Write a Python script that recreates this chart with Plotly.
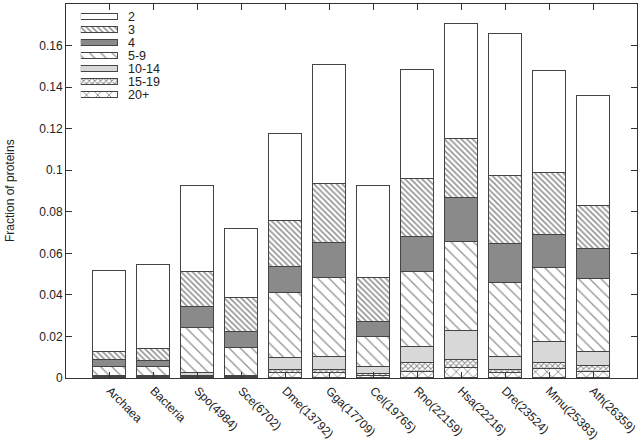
import plotly.graph_objects as go

categories = ["Archaea", "Bacteria", "Spo(4984)", "Sce(6702)", "Dme(13792)", "Gga(17709)",
              "Cel(19765)", "Rno(22159)", "Hsa(22216)", "Dre(23524)", "Mmu(25383)", "Ath(26359)"]

# values per size class (fraction of proteins)
s_20p   = [0.0001, 0.0001, 0.0003, 0.0002, 0.0022, 0.0025, 0.0008, 0.0027, 0.0047, 0.0022, 0.0041, 0.0031]
s_15_19 = [0.0002, 0.0002, 0.0006, 0.0003, 0.0016, 0.0014, 0.0012, 0.0045, 0.0040, 0.0017, 0.0030, 0.0029]
s_10_14 = [0.0007, 0.0006, 0.0013, 0.0006, 0.0056, 0.0064, 0.0032, 0.0077, 0.0137, 0.0061, 0.0104, 0.0067]
s_5_9   = [0.0042, 0.0043, 0.0218, 0.0135, 0.0314, 0.0378, 0.0144, 0.0360, 0.0431, 0.0357, 0.0354, 0.0349]
s_4     = [0.0035, 0.0030, 0.0101, 0.0075, 0.0125, 0.0169, 0.0073, 0.0171, 0.0212, 0.0188, 0.0161, 0.0147]
s_3     = [0.0037, 0.0059, 0.0167, 0.0164, 0.0225, 0.0286, 0.0212, 0.0280, 0.0285, 0.0327, 0.0298, 0.0203]
s_2     = [0.0389, 0.0401, 0.0414, 0.0334, 0.0414, 0.0570, 0.0442, 0.0523, 0.0552, 0.0682, 0.0489, 0.0531]

series_names = ["2", "3", "4", "5-9", "10-14", "15-19", "20+"]
series_values = [s_2, s_3, s_4, s_5_9, s_10_14, s_15_19, s_20p]

y_ticks = [0, 0.02, 0.04, 0.06, 0.08, 0.1, 0.12, 0.14, 0.16, 0.18]
y_ticktext = ["0", "0.02", "0.04", "0.06", "0.08", "0.1", "0.12", "0.14", "0.16", "0.18"]

LINE = "#444444"
HATCH = "#222222"
styles = {
    "2":     dict(color="white"),
    "3":     dict(color="white", pattern=dict(shape="\\", size=4, solidity=0.38, fgcolor=HATCH, bgcolor="white", fillmode="overlay")),
    "4":     dict(color="#8a8a8a"),
    "5-9":   dict(color="white", pattern=dict(shape="\\", size=8, solidity=0.16, fgcolor=HATCH, bgcolor="white", fillmode="overlay")),
    "10-14": dict(color="#d8d8d8"),
    "15-19": dict(color="white", pattern=dict(shape="x", size=4, solidity=0.45, fgcolor=HATCH, bgcolor="white", fillmode="overlay")),
    "20+":   dict(color="white", pattern=dict(shape="x", size=8, solidity=0.22, fgcolor=HATCH, bgcolor="white", fillmode="overlay")),
}

xpos = list(range(len(categories)))
fig = go.Figure()

# stacked bars, bottom segment first
for name, vals in reversed(list(zip(series_names, series_values))):
    m = dict(styles[name])
    m["line"] = dict(color=LINE, width=1)
    fig.add_trace(go.Bar(x=xpos, y=vals, name=name, width=0.75, marker=m, showlegend=False))

# inset legend drawn as patterned horizontal bars
for i, name in enumerate(series_names):
    m = dict(styles[name])
    m["line"] = dict(color=LINE, width=1)
    fig.add_trace(go.Bar(x=[1], y=[i], orientation="h", width=0.46, marker=m,
                         xaxis="x2", yaxis="y2", showlegend=False, hoverinfo="skip"))
    fig.add_annotation(x=0.105, xref="paper", y=i, yref="y2", text=name, showarrow=False,
                       xanchor="left", yanchor="middle", font=dict(size=12.5, color="#222"))

fig.add_annotation(x=-0.098, xref="paper", y=0.5, yref="paper", text="Fraction of proteins",
                   textangle=-90, showarrow=False, xanchor="center", yanchor="middle",
                   font=dict(size=12, color="#222"))

fig.update_layout(
    width=640, height=441,
    margin=dict(l=66, r=3, t=4, b=63, autoexpand=False),
    paper_bgcolor="white", plot_bgcolor="white",
    barmode="stack", bargap=0,
    font=dict(family="Liberation Sans, Arial, sans-serif", size=12, color="#222"),
    xaxis=dict(range=[-1, 12], tickvals=xpos, ticktext=categories, tickangle=45,
               showline=True, linecolor="#333", linewidth=1, mirror="ticks",
               ticks="inside", ticklen=6, tickcolor="#333", showgrid=False, zeroline=False,
               tickfont=dict(size=12), automargin=False),
    yaxis=dict(range=[0, 0.18], tickvals=y_ticks, ticktext=y_ticktext,
               showline=True, linecolor="#333", linewidth=1, mirror="ticks",
               ticks="inside", ticklen=6, tickcolor="#333", showgrid=False, zeroline=False,
               automargin=False),
    xaxis2=dict(domain=[0.026, 0.091], anchor="y2", range=[0, 1], visible=False),
    yaxis2=dict(domain=[0.7393, 0.9834], anchor="x2", range=[6.5, -0.5], visible=False),
)

fig.write_html("out.html", config={"displayModeBar": False},
               post_script="document.body.style.margin='0';")
